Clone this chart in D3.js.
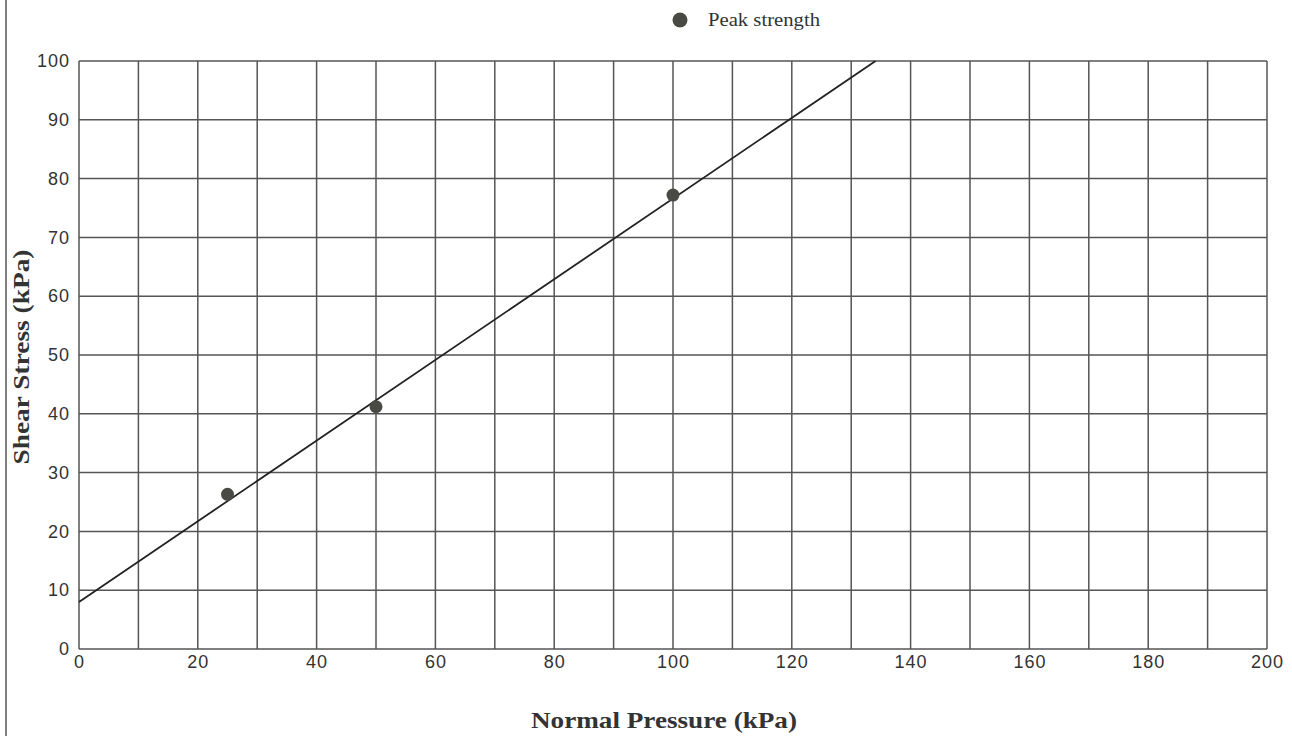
<!DOCTYPE html>
<html><head><meta charset="utf-8">
<script src="https://cdn.jsdelivr.net/npm/d3@7"></script>
<style>body{margin:0;background:#fff}svg{display:block}</style>
</head><body>
<svg id="c" width="1292" height="736"></svg>
<script>
const pressure = [25, 50, 100];
const shear = [26.3, 41.2, 77.2];
const fitLine = [[0, 8.0], [134.1, 100]];
const xTicks = [0, 20, 40, 60, 80, 100, 120, 140, 160, 180, 200];
const yTicks = [0, 10, 20, 30, 40, 50, 60, 70, 80, 90, 100];
const gridX = d3.range(0, 201, 10);
const gridY = d3.range(0, 101, 10);

const svg = d3.select("#c");
const L = 79, R = 1267, T = 61, B = 649;
const x = d3.scaleLinear().domain([0, 200]).range([L, R]);
const y = d3.scaleLinear().domain([0, 100]).range([B, T]);

// left border
svg.append("line").attr("x1", 6).attr("x2", 6).attr("y1", 0).attr("y2", 736)
  .attr("stroke", "#555").attr("stroke-width", 1.5);

const g = svg.append("g");
g.selectAll(".gx").data(gridX).join("line")
  .attr("x1", d => x(d)).attr("x2", d => x(d)).attr("y1", T).attr("y2", B)
  .attr("stroke", "#555").attr("stroke-width", 1.5);
g.selectAll(".gy").data(gridY).join("line")
  .attr("x1", L).attr("x2", R).attr("y1", d => y(d)).attr("y2", d => y(d))
  .attr("stroke", "#555").attr("stroke-width", 1.5);

// axes labels
const xa = svg.append("g").attr("transform", `translate(0,${B})`)
  .call(d3.axisBottom(x).tickValues(xTicks).tickSize(0).tickPadding(6));
xa.select(".domain").remove();
xa.selectAll("text").attr("font-family", "Liberation Sans, Arial, sans-serif")
  .attr("font-size", 18).attr("letter-spacing", 1).attr("fill", "#333");
const ya = svg.append("g").attr("transform", `translate(${L},0)`)
  .call(d3.axisLeft(y).tickValues(yTicks).tickSize(0).tickPadding(9));
ya.select(".domain").remove();
ya.selectAll("text").attr("font-family", "Liberation Sans, Arial, sans-serif")
  .attr("font-size", 18).attr("letter-spacing", 1).attr("fill", "#333");

// fit line
svg.append("path").datum(fitLine)
  .attr("d", d3.line().x(d => x(d[0])).y(d => y(d[1])))
  .attr("stroke", "#222").attr("stroke-width", 1.8).attr("fill", "none");

// points
svg.selectAll(".pt").data(pressure.map((p, i) => [p, shear[i]])).join("circle")
  .attr("cx", d => x(d[0])).attr("cy", d => y(d[1])).attr("r", 6.5)
  .attr("fill", "#4a4a44");

// legend
svg.append("circle").attr("cx", 680).attr("cy", 20).attr("r", 7.5).attr("fill", "#4a4a44");
svg.append("text").attr("x", 708).attr("y", 26).text("Peak strength")
  .attr("font-family", "Liberation Serif, Times New Roman, serif")
  .attr("font-size", 19).attr("textLength", 112).attr("lengthAdjust", "spacingAndGlyphs")
  .attr("fill", "#333");

// titles
svg.append("text").attr("x", 664).attr("y", 728).attr("text-anchor", "middle")
  .text("Normal Pressure (kPa)")
  .attr("font-family", "Liberation Serif, Times New Roman, serif")
  .attr("font-weight", "bold").attr("font-size", 24)
  .attr("textLength", 266).attr("lengthAdjust", "spacingAndGlyphs").attr("fill", "#333");
svg.append("text").attr("transform", "translate(29,357) rotate(-90)")
  .attr("text-anchor", "middle").text("Shear Stress (kPa)")
  .attr("font-family", "Liberation Serif, Times New Roman, serif")
  .attr("font-weight", "bold").attr("font-size", 23)
  .attr("textLength", 215).attr("lengthAdjust", "spacingAndGlyphs").attr("fill", "#333");
</script>
</body></html>
